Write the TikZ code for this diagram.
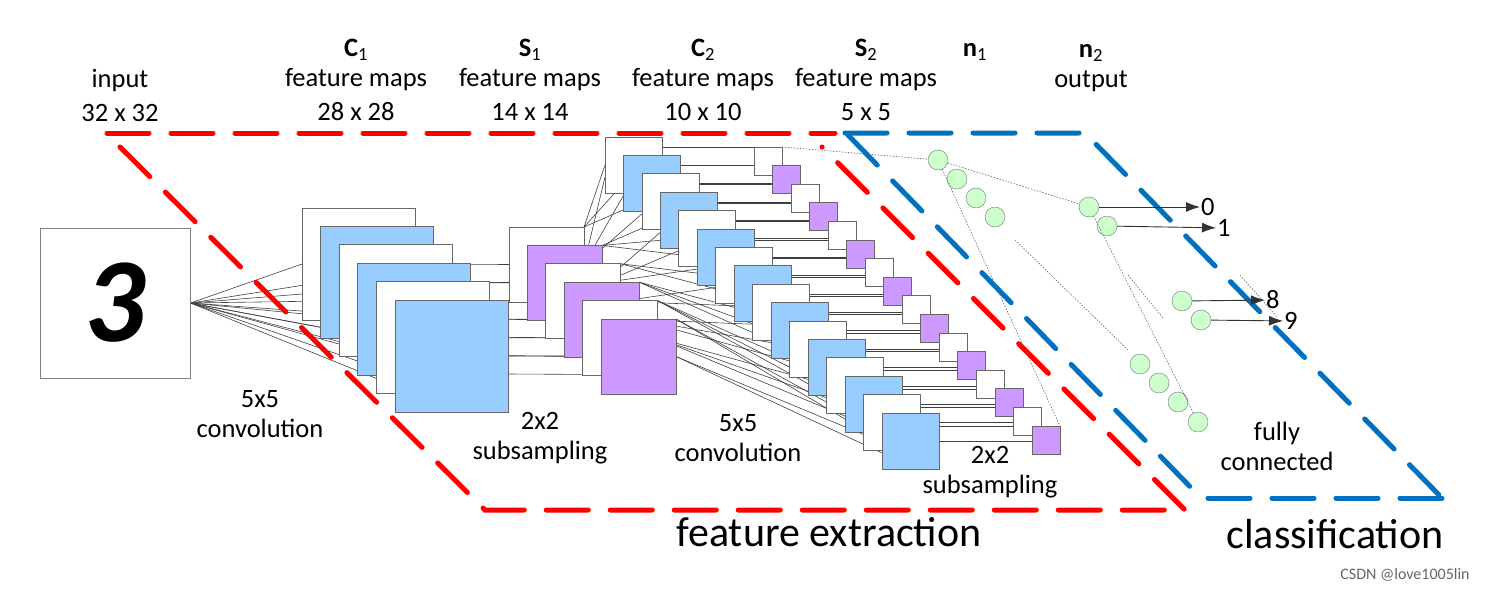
\documentclass[tikz,border=0pt]{standalone}
\usepackage{fontspec}
\setmainfont{Carlito}
\usetikzlibrary{arrows,arrows.meta}
\pgfdeclarelayer{background}
\pgfsetlayers{background,main}
\definecolor{mapblue}{RGB}{153,204,255}
\definecolor{mappurple}{RGB}{204,153,255}
\definecolor{unitgreen}{RGB}{204,255,204}
\definecolor{partred}{RGB}{255,0,0}
\definecolor{partblue}{RGB}{0,112,192}

\begin{document}
\begin{tikzpicture}[x=1pt, y=-1pt]
% Node styles ---
\tikzstyle{map} = [rectangle, draw = black!60, anchor = north west, inner sep = 0, outer sep = 0, line width = 0.8pt] % Feature maps
\tikzstyle{unit} = [circle, draw = black!55, fill = unitgreen, minimum size = 20pt, inner sep = 0] % Neurons
\tikzstyle{lbl} = [font = \fontsize{26.5}{30}\selectfont, align = center] % Labels
\tikzstyle{big} = [font = \fontsize{42}{46}\selectfont] % Part names
% Edge styles
\tikzstyle{wire} = [draw = black!75, line width = 0.6pt] % Connections
\tikzstyle{full} = [draw = black!60, line width = 0.6pt, dash pattern = on 1.5pt off 1.5pt] % Full connections
\tikzstyle{outp} = [-{Latex[length=14pt, width=10pt]}, draw = black!80, line width = 0.9pt] % Outputs
\tikzstyle{part} = [line width = 5pt, dash pattern = on 42pt off 22pt, line cap = round] % Parts
% Begin Figure ---
\useasboundingbox (0,0) rectangle (1506,592);
% Parts
\draw[part, partred] (107,133) -- (835,133);
\draw[part, partred] (120,147) -- (485,510) -- (1185,510) -- (822,147);
\draw[part, partblue] (845,133) -- (1085,133) -- (1442,498);
\draw[part, partblue] (848,135) -- (1203,500);
\draw[part, partblue] (1442,498) -- (1195,498);
% Input
\node at (115,303) [rectangle, draw = black!50, minimum size = 150pt, inner sep = 0, line width = 0.8pt,
  font = \fontsize{120}{120}\selectfont\bfseries\itshape] (in) {3};
% Feature maps
\foreach \i/\c in {0/white,1/mapblue,2/white,3/mapblue,4/white,5/mapblue}
  \node at (302+18.6*\i, 208+18.4*\i) [map, fill = \c, minimum width = 113pt, minimum height = 112pt] (c1\i) {};
\foreach \i/\c in {0/white,1/mappurple,2/white,3/mappurple,4/white,5/mappurple}
  \node at (509+18.4*\i, 227+18.4*\i) [map, fill = \c, minimum size = 75pt] (s1\i) {};
\foreach \i in {0,...,15} {
  \pgfmathsetmacro\c{ifthenelse(mod(\i,2)==0,"white","mapblue")}
  \node at (605+18.47*\i, 137+18.4*\i) [map, fill = \c, minimum width = 57pt, minimum height = 56pt] (c2\i) {};
  \pgfmathsetmacro\d{ifthenelse(mod(\i,2)==0,"white","mappurple")}
  \node at (754+18.53*\i, 147+18.6*\i) [map, fill = \d, minimum size = 28pt] (s2\i) {};
}
% Neurons
\node at (938,160) [unit] (n10) {};
\node at (957,179) [unit] (n11) {};
\node at (976,198) [unit] (n12) {};
\node at (995,217) [unit] (n13) {};
\node at (1140,364) [unit] (n14) {};
\node at (1159,383) [unit] (n15) {};
\node at (1178,402) [unit] (n16) {};
\node at (1198,422) [unit] (n17) {};
\node at (1089,207) [unit] (n20) {};
\node at (1107,226) [unit] (n21) {};
\node at (1182,301) [unit] (n28) {};
\node at (1201,320) [unit] (n29) {};
\node at (1200,207) [lbl, anchor = west, inner sep = 1pt] (o0) {0};
\node at (1216,228) [lbl, anchor = west, inner sep = 1pt] (o1) {1};
\node at (1265,300) [lbl, anchor = west, inner sep = 1pt] (o8) {8};
\node at (1283,321) [lbl, anchor = west, inner sep = 1pt] (o9) {9};
% Connections
\begin{pgfonlayer}{background}
\foreach \i in {0,...,5} {
  \draw[wire] (in.east) -- (c1\i.west);
  \draw[wire] (in.east) -- ([yshift=-30pt]c1\i.west);
  \draw[wire] (c1\i.east) -- (s1\i.west);
  \draw[wire] ([yshift=-18pt]c1\i.east) -- ([yshift=-18pt]s1\i.west);
}
\foreach \k in {0,...,15} {
  \pgfmathtruncatemacro\j{int(\k*6/16)}
  \draw[wire] (s1\j.north east) -- (c2\k.west);
  \draw[wire] (s1\j.east) -- ([yshift=-12pt]c2\k.west);
  \draw[wire] (c2\k.east) -- (c2\k.east -| s2\k.west);
  \draw[wire] (s2\k.north west -| c2\k.east) -- (s2\k.north west);
}
\end{pgfonlayer}
\path (s20.north east) edge [full] (n10);
\path (n10) edge [full] (n20);
\path (n10) edge [full] (s215.north east);
\path (n20) edge [full] (n17);
\coordinate (d1) at (1015,240);
\coordinate (d2) at (1128,350);
\coordinate (d3) at (1128,275);
\coordinate (d4) at (1163,318);
\coordinate (d5) at (1240,275);
\coordinate (d6) at (1278,318);
\path (d1) edge [full] (d2);
\path (d3) edge [full] (d4);
\path (d5) edge [full] (d6);
\path (n20) edge [outp] (o0);
\path (n21) edge [outp] (o1);
\path (n28) edge [outp] (o8);
\path (n29) edge [outp] (o9);
% Labels
\node at (120,95) [lbl] {input\\[4pt]32 x 32};
\node at (356,80) [lbl] {\textbf{C}\textsubscript{1}\\feature maps\\[4pt]28 x 28};
\node at (530,80) [lbl] {\textbf{S}\textsubscript{1}\\feature maps\\[4pt]14 x 14};
\node at (703,80) [lbl] {\textbf{C}\textsubscript{2}\\feature maps\\[4pt]10 x 10};
\node at (866,80) [lbl] {\textbf{S}\textsubscript{2}\\feature maps\\[4pt]5 x 5};
\node at (975,52) [lbl] {\textbf{n}\textsubscript{1}};
\node at (1091,68) [lbl] {\textbf{n}\textsubscript{2}\\output};
\node at (260,414) [lbl] {5x5\\convolution};
\node at (540,438) [lbl] {2x2\\subsampling};
\node at (738,438) [lbl] {5x5\\convolution};
\node at (990,472) [lbl] {2x2\\subsampling};
\node at (1277,446) [lbl] {fully\\connected};
\node at (829,532) [big] {feature extraction};
\node at (1335,534) [big] {classification};
\node at (1405,575) [font = \fontsize{16}{18}\selectfont, text = black!60] {CSDN @love1005lin};
\end{tikzpicture}
\end{document}
